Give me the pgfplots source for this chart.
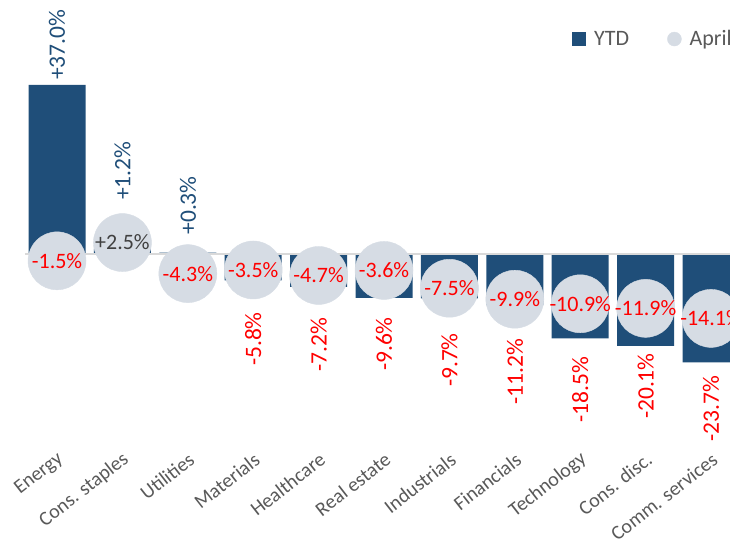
\documentclass[border=0pt]{standalone}
\usepackage{pgfplots}
\pgfplotsset{compat=1.18}
\usepackage{pgfplotstable}
\usepackage{fontspec}
\setmainfont{Carlito}

\definecolor{barblue}{HTML}{1F4E79}
\definecolor{circgray}{HTML}{D6DCE4}
\definecolor{lblgray}{HTML}{595959}
\definecolor{darkgray}{HTML}{404040}
\definecolor{zerogray}{HTML}{D9D9D9}

% sector returns: YTD and April
\pgfplotstableread{
x ytd april
0 37.0 -1.5
1 1.2 2.5
2 0.3 -4.3
3 -5.8 -3.5
4 -7.2 -4.7
5 -9.6 -3.6
6 -9.7 -7.5
7 -11.2 -9.9
8 -18.5 -10.9
9 -20.1 -11.9
10 -23.7 -14.1
}\sectors

% April values, split by sign for the text colour
\pgfplotstableread{
x april
1 2.5
}\aprpos
\pgfplotstableread{
x april
0 -1.5
2 -4.3
3 -3.5
4 -4.7
5 -3.6
6 -7.5
7 -9.9
8 -10.9
9 -11.9
10 -14.1
}\aprneg

% where the YTD labels sit
\pgfplotstableread{
x ly ytd
0 38.1 37.0
1 11.8 1.2
2 4.2 0.3
}\poslabels
\pgfplotstableread{
x ly ytd
3 -12.7 -5.8
4 -14.0 -7.2
5 -13.8 -9.6
6 -17.3 -9.7
7 -18.6 -11.2
8 -22.5 -18.5
9 -21.7 -20.1
10 -26.7 -23.7
}\neglabels

\pgfplotstableread{
x ly name
0 -45.1 Energy
1 -45.1 {Cons. staples}
2 -45.1 Utilities
3 -45.1 Materials
4 -45.1 Healthcare
5 -45.1 {Real estate}
6 -45.1 Industrials
7 -45.1 Financials
8 -45.1 Technology
9 -45.1 {Cons. disc.}
10 -45.1 {Comm. services}
}\names

\begin{document}
\begin{tikzpicture}
  \begin{axis}[
      width=730pt,
      height=550pt,
      scale only axis,
      xmin=-0.872, xmax=10.29,
      ymin=-64.8, ymax=55.6,
      hide axis,
      clip=false,
      /pgf/number format/assume math mode=true,
      legend columns=2,
      legend style={at={(rel axis cs:0.7836,0.929)}, anchor=west,
        draw=none, fill=none, inner sep=0pt,
        font=\fontsize{22}{26}\selectfont, text=lblgray,
        /tikz/every odd column/.append style={column sep=6pt},
        /tikz/every even column/.append style={column sep=36pt}},
    ]
    % YTD bars
    \addplot[ybar, bar width=57pt, fill=barblue, draw=none,
      legend image code/.code={\fill[barblue] (0pt,-7pt) rectangle (14pt,7pt);}]
      table[x=x, y=ytd] {\sectors};
    \addlegendentry{YTD}

    \draw[zerogray, line width=2pt] (axis cs:-0.49,0) -- (axis cs:10.6,0);

    % April circles
    \addplot[only marks, mark=*, mark size=29pt, color=circgray,
      mark options={fill=circgray, draw=none},
      legend image code/.code={\fill[circgray] (7pt,0pt) circle (7pt);}]
      table[x=x, y=april] {\sectors};
    \addlegendentry{April}

    % April values in the circles
    \addplot[only marks, mark=none, forget plot,
      point meta=\thisrow{april},
      nodes near coords={\pgfmathprintnumber[fixed, fixed zerofill, precision=1, showpos]{\pgfplotspointmeta}\%},
      every node near coord/.append style={anchor=center, inner sep=0pt,
        font=\fontsize{22}{26}\selectfont, text=red}]
      table[x=x, y=april] {\aprneg};
    \addplot[only marks, mark=none, forget plot,
      point meta=\thisrow{april},
      nodes near coords={\pgfmathprintnumber[fixed, fixed zerofill, precision=1, showpos]{\pgfplotspointmeta}\%},
      every node near coord/.append style={anchor=center, inner sep=0pt,
        font=\fontsize{22}{26}\selectfont, text=darkgray}]
      table[x=x, y=april] {\aprpos};

    % YTD labels
    \addplot[only marks, mark=none, forget plot,
      point meta=\thisrow{ytd},
      nodes near coords={\pgfmathprintnumber[fixed, fixed zerofill, precision=1, showpos]{\pgfplotspointmeta}\%},
      every node near coord/.append style={rotate=90, anchor=west, inner sep=0pt,
        font=\fontsize{23.5}{28}\selectfont, text=barblue}]
      table[x=x, y=ly] {\poslabels};
    \addplot[only marks, mark=none, forget plot,
      point meta=\thisrow{ytd},
      nodes near coords={\pgfmathprintnumber[fixed, fixed zerofill, precision=1, showpos]{\pgfplotspointmeta}\%},
      every node near coord/.append style={rotate=90, anchor=east, inner sep=0pt,
        font=\fontsize{23.5}{28}\selectfont, text=red}]
      table[x=x, y=ly] {\neglabels};

    % category names
    \addplot[only marks, mark=none, forget plot,
      point meta=explicit symbolic,
      nodes near coords,
      every node near coord/.append style={rotate=38, anchor=east, inner sep=0pt,
        xshift=5pt, font=\fontsize{20}{24}\selectfont, text=lblgray}]
      table[x=x, y=ly, meta=name] {\names};
  \end{axis}
  \pgfresetboundingbox
  \useasboundingbox (current axis.south west) rectangle (current axis.north east);
\end{tikzpicture}
\end{document}
